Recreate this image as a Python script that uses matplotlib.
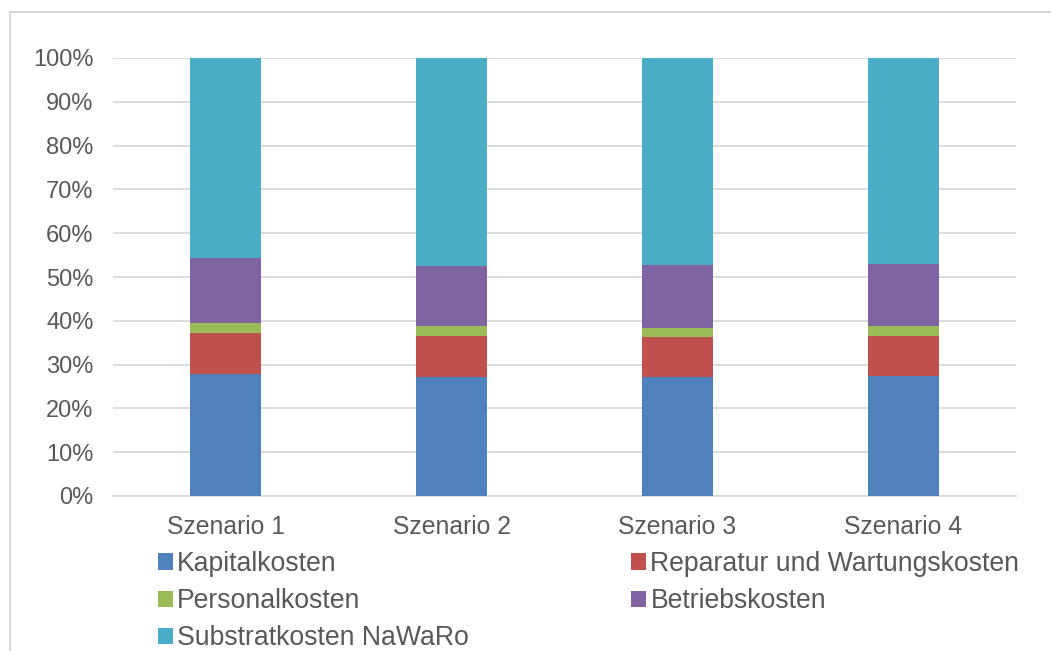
import matplotlib
matplotlib.use("Agg")
import matplotlib.pyplot as plt
from matplotlib.lines import Line2D
from matplotlib.patches import Patch
import numpy as np

plt.rcParams['font.family'] = ['Liberation Sans', 'DejaVu Sans']

szenarien = ["Szenario 1", "Szenario 2", "Szenario 3", "Szenario 4"]
kapital = [27.9, 27.2, 27.1, 27.3]
reparatur = [9.4, 9.3, 9.1, 9.3]
personal = [2.1, 2.2, 2.2, 2.2]
betrieb = [14.9, 13.7, 14.3, 14.2]
substrat = [45.7, 47.6, 47.3, 47.0]

namen = ["Kapitalkosten", "Reparatur und Wartungskosten", "Personalkosten",
         "Betriebskosten", "Substratkosten NaWaRo"]
farben = ["#4F81BD", "#C0504D", "#9BBB59", "#8064A2", "#4BACC6"]
reihen = [kapital, reparatur, personal, betrieb, substrat]

textfarbe = "#595959"
gitter = "#D9D9D9"

W, H = 1051, 651
fig = plt.figure(figsize=(W / 100, H / 100), dpi=100)
ax = fig.add_axes([113 / W, 1 - 496 / H, (1016 - 113) / W, (496 - 58) / H])

x = np.arange(len(szenarien))
unten = np.zeros(len(szenarien))
for name, farbe, werte in zip(namen, farben, reihen):
    ax.bar(x, werte, 0.315, bottom=unten, color=farbe, label=name, zorder=3)
    unten += np.array(werte)

ax.set_xlim(-0.5, 3.5)
ax.set_ylim(0, 100)
ax.set_yticks(range(0, 101, 10))
ax.set_yticklabels([f"{v}%" for v in range(0, 101, 10)])
ax.set_xticks(x)
ax.set_xticklabels(szenarien)
ax.yaxis.grid(True, color=gitter, linewidth=1.3, zorder=0)
for s in ["top", "right", "left"]:
    ax.spines[s].set_visible(False)
ax.spines["bottom"].set_color(gitter)
ax.spines["bottom"].set_linewidth(1.3)
ax.tick_params(axis="both", length=0, labelcolor=textfarbe)
ax.tick_params(axis="y", pad=14, labelsize=17)
ax.tick_params(axis="x", pad=13.5, labelsize=17.8)

# Legende zeilenweise: Reihenfolge für ncol=2 umsortieren
handles = [Patch(facecolor=f) for f in farben]
ordnung = [0, 2, 4, 1, 3]
leg = fig.legend([handles[i] for i in ordnung], [namen[i] for i in ordnung],
                 ncol=2, loc="upper left", bbox_to_anchor=(158 / W, 1 - 551 / H),
                 frameon=False, fontsize=19.2, handlelength=0.56, handleheight=0.56,
                 handletextpad=0.15, labelspacing=0.42, columnspacing=6.1,
                 borderaxespad=0, borderpad=0)
for t in leg.get_texts():
    t.set_color(textfarbe)

# Rahmen oben und links
fig.add_artist(Line2D([10 / W, 1], [1 - 12 / H, 1 - 12 / H], color=gitter, linewidth=1.5))
fig.add_artist(Line2D([10 / W, 10 / W], [0, 1 - 12 / H], color=gitter, linewidth=1.5))

fig.savefig("out.png", dpi=100)
